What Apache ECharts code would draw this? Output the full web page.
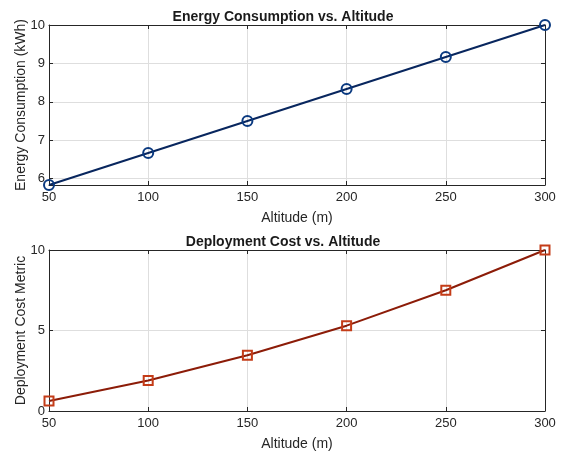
<!DOCTYPE html>
<html>
<head>
<meta charset="utf-8">
<script src="https://cdn.jsdelivr.net/npm/echarts@6/dist/echarts.min.js"></script>
<style>html,body{margin:0;padding:0;background:#fff;}#c{width:563px;height:455px;}</style>
</head>
<body>
<div id="c"></div>
<script>
var altitudes = [50, 100, 150, 200, 250, 300];
var energyValues = [5.8333, 6.6667, 7.5, 8.3333, 9.1667, 10];
var costValues = [0.62, 1.9, 3.46, 5.3, 7.5, 10];
var xTicks = [50, 100, 150, 200, 250, 300];
var energyTicks = [6, 7, 8, 9, 10];
var costTicks = [0, 5, 10];
var titles = ['Energy Consumption vs. Altitude', 'Deployment Cost vs. Altitude'];
var xName = 'Altitude (m)';
var yNames = ['Energy Consumption (kWh)', 'Deployment Cost Metric'];

var FONT = 'Liberation Sans, Arial, sans-serif';
var AX = '#262626';
var GRIDC = '#dedede';

function pairs(xs, ys) { return xs.map(function (x, i) { return [x, ys[i]]; }); }

function mainX(gi, showName) {
  return {
    type: 'value', gridIndex: gi, min: xTicks[0], max: xTicks[xTicks.length - 1], interval: 50,
    name: showName ? xName : '', nameLocation: 'middle', nameGap: 26,
    nameTextStyle: { fontFamily: FONT, fontSize: 14, color: AX },
    axisLine: { show: true, onZero: false, lineStyle: { color: AX, width: 1 } },
    axisTick: { show: true, inside: true, length: 4, lineStyle: { color: AX } },
    axisLabel: { fontFamily: FONT, fontSize: 13, color: AX, margin: 6 },
    splitLine: { show: true, lineStyle: { color: GRIDC, width: 1 } }
  };
}
function topX(gi) {
  return {
    type: 'value', gridIndex: gi, position: 'top', min: xTicks[0], max: xTicks[xTicks.length - 1], interval: 50,
    axisLine: { show: true, onZero: false, lineStyle: { color: AX, width: 1 } },
    axisTick: { show: true, inside: true, length: 4, lineStyle: { color: AX } },
    axisLabel: { show: false }, splitLine: { show: false }
  };
}
function mainY(gi, min, max, interval, name) {
  var o = {
    type: 'value', gridIndex: gi, min: min, max: max,
    name: name, nameLocation: 'middle', nameGap: 21, nameMoveOverlap: false,
    nameTextStyle: { fontFamily: FONT, fontSize: 14, color: AX },
    axisLine: { show: true, onZero: false, lineStyle: { color: AX, width: 1 } },
    axisTick: { show: true, inside: true, length: 4, lineStyle: { color: AX } },
    axisLabel: { fontFamily: FONT, fontSize: 13, color: AX, margin: 4, showMinLabel: min % interval === 0 },
    splitLine: { show: true, lineStyle: { color: GRIDC, width: 1 } }
  };
  if (min % interval === 0) { o.interval = interval; } else { o.splitNumber = 4; }
  return o;
}
function rightY(gi, min, max, interval) {
  var o = {
    type: 'value', gridIndex: gi, position: 'right', min: min, max: max,
    axisLine: { show: true, onZero: false, lineStyle: { color: AX, width: 1 } },
    axisTick: { show: true, inside: true, length: 4, lineStyle: { color: AX } },
    axisLabel: { show: false }, splitLine: { show: false }
  };
  if (min % interval === 0) { o.interval = interval; } else { o.splitNumber = 4; }
  return o;
}

var eMin = Math.min.apply(null, energyValues);
var eMax = energyTicks[energyTicks.length - 1];

var chart = echarts.init(document.getElementById('c'), null, { renderer: 'canvas' });
chart.setOption({
  animation: false,
  backgroundColor: '#ffffff',
  title: [
    { text: titles[0], left: 278, top: 5, textAlign: 'center',
      textStyle: { fontFamily: FONT, fontSize: 14, fontWeight: 'bold', color: '#1a1a1a' } },
    { text: titles[1], left: 278, top: 230, textAlign: 'center',
      textStyle: { fontFamily: FONT, fontSize: 14, fontWeight: 'bold', color: '#1a1a1a' } }
  ],
  grid: [
    { left: 49, right: 18, top: 25, height: 160, outerBoundsMode: 'none', containLabel: false },
    { left: 49, right: 18, top: 250, height: 161, outerBoundsMode: 'none', containLabel: false }
  ],
  xAxis: [mainX(0, true), mainX(1, true), topX(0), topX(1)],
  yAxis: [
    mainY(0, eMin, eMax, 1, yNames[0]),
    mainY(1, costTicks[0], costTicks[costTicks.length - 1], 5, yNames[1]),
    rightY(0, eMin, eMax, 1),
    rightY(1, costTicks[0], costTicks[costTicks.length - 1], 5)
  ],
  series: [
    { type: 'line', xAxisIndex: 0, yAxisIndex: 0, data: pairs(altitudes, energyValues),
      symbol: 'circle', symbolSize: 10, showAllSymbol: true,
      lineStyle: { color: '#08265e', width: 2 },
      itemStyle: { color: 'rgba(0,0,0,0)', borderColor: '#0b3a80', borderWidth: 2 } },
    { type: 'line', xAxisIndex: 1, yAxisIndex: 1, data: pairs(altitudes, costValues),
      symbol: 'rect', symbolSize: 9, showAllSymbol: true,
      lineStyle: { color: '#8c1c08', width: 2 },
      itemStyle: { color: 'rgba(0,0,0,0)', borderColor: '#c43c18', borderWidth: 2 } }
  ]
});
</script>
</body>
</html>
